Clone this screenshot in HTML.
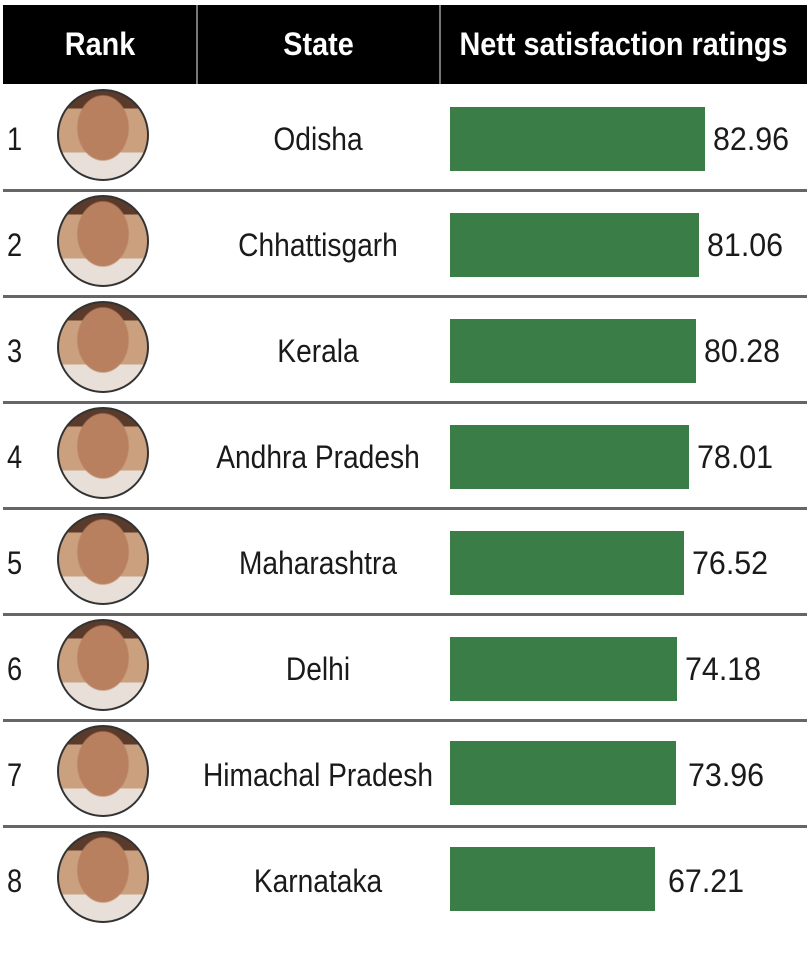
<!DOCTYPE html>
<html><head><style>
body{margin:0;width:810px;height:960px;background:#fff;position:relative;overflow:hidden;font-family:"Liberation Sans",sans-serif;color:#1a1a1a}
.hd{position:absolute;top:5px;left:3px;width:804px;height:79px;background:#000}
.hd div{position:absolute;top:0;height:79px;line-height:79px;color:#fff;font-weight:bold;font-size:32px;text-align:center;white-space:nowrap;transform:scaleX(0.9)}
.vl{position:absolute;top:5px;height:79px;width:2px;background:#777}
.ln{position:absolute;left:3px;width:804px;height:3px;background:#666}
.rk{position:absolute;left:7px;font-size:32px;width:20px;margin-top:1px;transform:scaleX(0.85);transform-origin:left}
.st{position:absolute;left:118px;width:400px;text-align:center;font-size:32px;white-space:nowrap;margin-top:1px;transform:scaleX(0.88)}
.ph{position:absolute;left:57px;width:92px;height:92px;border-radius:50%;border:2px solid #333;box-sizing:border-box;background:radial-gradient(ellipse 30% 38% at 50% 42%,#b9805f 0 95%,transparent 100%),linear-gradient(#5a3a2a 0 20%,#caa07f 20% 70%,#e8e0d8 70%)}
.bar{position:absolute;left:450px;height:64px;background:#3a7d47}
.v{position:absolute;font-size:32px;margin-top:1px;transform:scaleX(0.95);transform-origin:left;white-space:nowrap}
</style></head><body>
<div class="hd"><div style="left:0;width:194px">Rank</div><div style="left:194px;width:243px">State</div><div style="left:437px;width:367px">Nett satisfaction ratings</div></div>
<div class="vl" style="left:196px"></div><div class="vl" style="left:439px"></div>

<div class="ln" style="top:189px"></div><div class="ln" style="top:295px"></div><div class="ln" style="top:401px"></div><div class="ln" style="top:507px"></div><div class="ln" style="top:613px"></div><div class="ln" style="top:719px"></div><div class="ln" style="top:825px"></div>

<div class="rk" style="top:120px">1</div><div class="ph" style="top:89px"></div><div class="st" style="top:120px">Odisha</div><div class="bar" style="top:107px;width:255px"></div><div class="v" style="left:713px;top:120px">82.96</div>
<div class="rk" style="top:226px">2</div><div class="ph" style="top:195px"></div><div class="st" style="top:226px">Chhattisgarh</div><div class="bar" style="top:213px;width:249px"></div><div class="v" style="left:707px;top:226px">81.06</div>
<div class="rk" style="top:332px">3</div><div class="ph" style="top:301px"></div><div class="st" style="top:332px">Kerala</div><div class="bar" style="top:319px;width:246px"></div><div class="v" style="left:704px;top:332px">80.28</div>
<div class="rk" style="top:438px">4</div><div class="ph" style="top:407px"></div><div class="st" style="top:438px">Andhra Pradesh</div><div class="bar" style="top:425px;width:239px"></div><div class="v" style="left:697px;top:438px">78.01</div>
<div class="rk" style="top:544px">5</div><div class="ph" style="top:513px"></div><div class="st" style="top:544px">Maharashtra</div><div class="bar" style="top:531px;width:234px"></div><div class="v" style="left:692px;top:544px">76.52</div>
<div class="rk" style="top:650px">6</div><div class="ph" style="top:619px"></div><div class="st" style="top:650px">Delhi</div><div class="bar" style="top:637px;width:227px"></div><div class="v" style="left:685px;top:650px">74.18</div>
<div class="rk" style="top:756px">7</div><div class="ph" style="top:725px"></div><div class="st" style="top:756px">Himachal Pradesh</div><div class="bar" style="top:741px;width:226px"></div><div class="v" style="left:688px;top:756px">73.96</div>
<div class="rk" style="top:862px">8</div><div class="ph" style="top:831px"></div><div class="st" style="top:862px">Karnataka</div><div class="bar" style="top:847px;width:205px"></div><div class="v" style="left:668px;top:862px">67.21</div>
</body></html>
